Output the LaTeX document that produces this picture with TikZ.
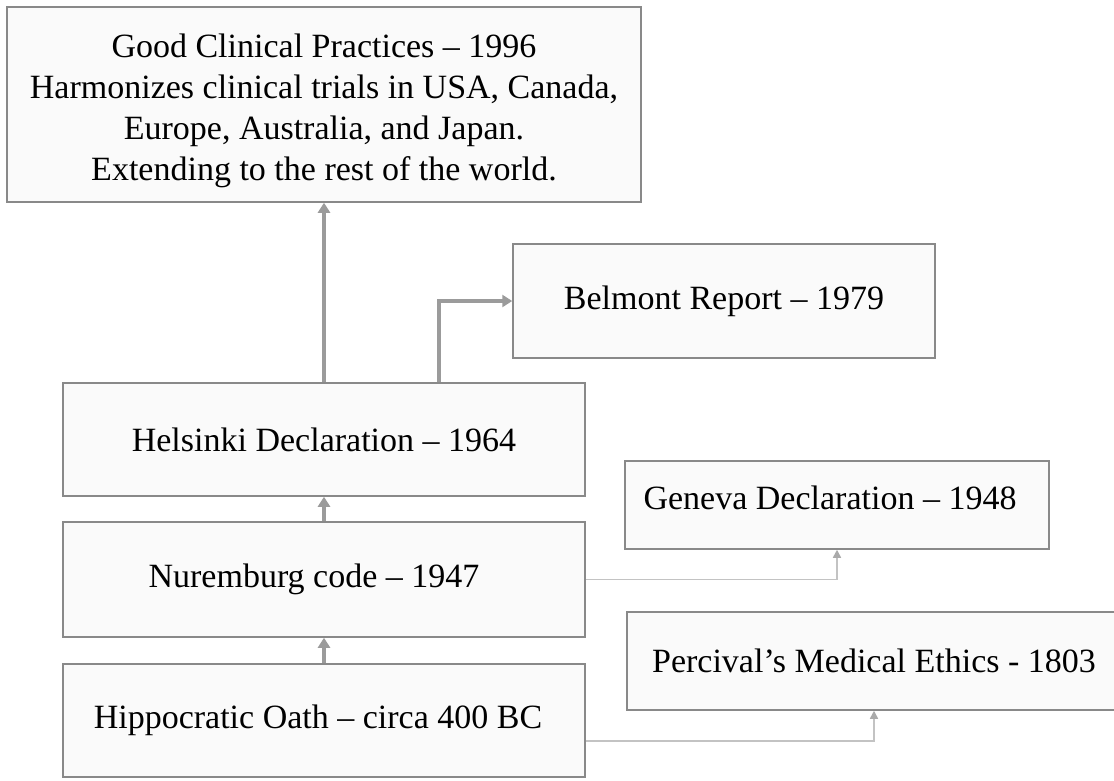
\documentclass[tikz,border=0pt]{standalone}
\usepackage{fontspec}
\setmainfont{Liberation Serif}
\usetikzlibrary{arrows.meta}
\definecolor{boxline}{RGB}{137,137,137}
\definecolor{boxfill}{RGB}{250,250,250}
\definecolor{mainlink}{RGB}{155,155,155}
\definecolor{sidelink}{RGB}{195,195,195}
\definecolor{sidetip}{RGB}{170,170,170}
\tikzset{
  event/.style={draw=boxline,fill=boxfill,line width=1.5pt,inner sep=0pt,
    font=\fontsize{34}{41}\selectfont},
  mainarrow/.style={draw=mainlink,line width=4pt,
    -{Triangle[length=10pt,width=12pt]}},
  sidearrow/.style={draw=sidelink,line width=1.6pt,
    -{Triangle[length=8pt,width=8pt,color=sidetip]}}
}
\begin{document}
\begin{tikzpicture}[x=1pt,y=-1pt]
    \useasboundingbox (0,0) rectangle (1114,780);
    %% main line of codes
    \node[event,minimum width=634pt,minimum height=195pt,align=center] (gcp) at (324,104.5)
      {\rule{0pt}{36pt}Good Clinical Practices – 1996\\Harmonizes clinical trials in USA, Canada,\\
       Europe, Australia, and Japan.\\Extending to the rest of the world.};
    \node[event,minimum width=522pt,minimum height=113pt] (helsinki) at (324,439.5)
      {Helsinki Declaration – 1964};
    \node[event,minimum width=522pt,minimum height=115pt] (nuremburg) at (324,579.5)
      {Nuremburg code – 1947\hspace*{20pt}};
    \node[event,minimum width=522pt,minimum height=113pt] (hippo) at (324,720.5)
      {Hippocratic Oath – circa 400 BC\hspace*{12pt}};
    %% side codes
    \node[event,minimum width=422pt,minimum height=114pt] (belmont) at (724,301)
      {Belmont Report – 1979};
    \node[event,minimum width=424pt,minimum height=88pt,text depth=15pt] (geneva) at (837,505)
      {Geneva Declaration – 1948\hspace*{14pt}};
    \node[event,minimum width=494pt,minimum height=98pt] (percival) at (874,661)
      {Percival’s Medical Ethics - 1803};
    %% links
    \draw[mainarrow] (hippo.north) -- (nuremburg.south);
    \draw[mainarrow] (nuremburg.north) -- (helsinki.south);
    \draw[mainarrow] (helsinki.north) -- (gcp.south);
    \coordinate (hb) at ([xshift=115pt]helsinki.north);
    \draw[mainarrow] (hb) |- (belmont.west);
    \draw[sidearrow] (nuremburg.east) -| (geneva.south);
    \coordinate (hp) at ([yshift=-20.5pt]hippo.east);
    \draw[sidearrow] (hp) -| (percival.south);
\end{tikzpicture}
\end{document}
